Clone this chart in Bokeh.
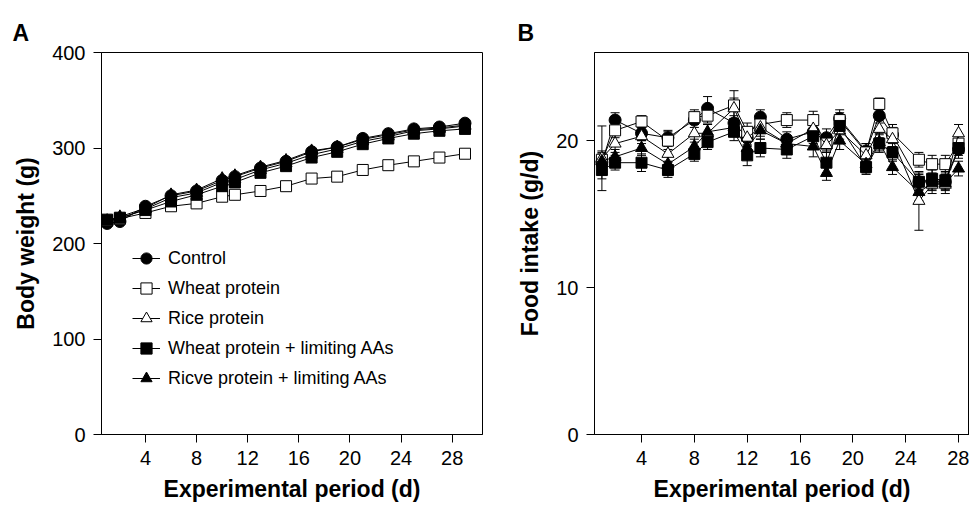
from bokeh.plotting import figure
from bokeh.layouts import row
from bokeh.models import (Range1d, FixedTicker, Legend, LegendItem, ColumnDataSource,
                          Whisker, TeeHead)
from bokeh.embed import file_html
from bokeh.resources import INLINE

FONT = "Liberation Sans"

# ---------------- data ----------------
series_names = ["Control", "Wheat protein", "Rice protein",
                "Wheat protein + limiting AAs", "Ricve protein + limiting AAs"]

# Panel A: body weight (g)
days_a = [1, 2, 4, 6, 8, 10, 11, 13, 15, 17, 19, 21, 23, 25, 27, 29]
bw_control = [221, 223, 239, 250, 255, 266, 270, 279, 286, 296, 301, 310, 315, 320, 322, 326]
bw_wheat = [224, 226, 232, 239, 242, 249, 251, 255, 260, 268, 270, 277, 282, 286, 290, 294]
bw_rice = [223, 226, 236, 248, 253, 264, 267, 277, 284, 293, 299, 307, 312, 318, 320, 323]
bw_wheat_aa = [225, 227, 235, 244, 251, 260, 264, 274, 281, 290, 296, 304, 310, 315, 318, 320]
bw_rice_aa = [224, 228, 237, 251, 256, 268, 271, 280, 287, 297, 301, 309, 314, 319, 321, 324]

# Panel B: food intake (g/d) with error
days_b = [1, 2, 4, 6, 8, 9, 11, 12, 13, 15, 17, 18, 19, 21, 22, 23, 25, 26, 27, 28]
fi_control = [18.5, 21.4, 20.5, 20.2, 21.4, 22.2, 21.2, 20.2, 21.6, 20.1, 20.6, 20.2, 21.5, 19.3, 21.7, 20.4, 17.2, 17.2, 17.2, 19.4]
fi_wheat = [18.7, 20.7, 21.3, 20.0, 21.6, 21.7, 22.4, 20.6, 21.1, 21.4, 21.4, 19.8, 21.4, 19.2, 22.5, 20.5, 18.7, 18.4, 18.4, 19.8]
fi_rice = [18.8, 19.8, 20.3, 19.1, 20.5, 20.5, 22.2, 20.2, 20.9, 19.8, 20.8, 19.7, 20.7, 19.0, 20.8, 20.1, 15.9, 17.0, 17.0, 20.5]
fi_wheat_aa = [18.0, 18.5, 18.5, 18.0, 19.1, 19.9, 20.6, 19.0, 19.5, 19.4, 20.3, 18.5, 21.0, 18.2, 19.8, 19.2, 17.2, 17.4, 17.3, 19.5]
fi_rice_aa = [18.6, 18.9, 19.5, 18.4, 19.6, 20.6, 20.9, 19.5, 20.7, 19.8, 19.6, 17.8, 20.0, 18.4, 19.9, 18.2, 16.5, 17.1, 17.1, 18.1]

err_control = [0.6, 0.5, 0.5, 0.5, 0.5, 0.8, 0.5, 0.5, 0.5, 0.5, 0.6, 0.6, 0.6, 0.5, 0.5, 0.5, 0.6, 0.5, 0.5, 0.6]
err_wheat = [0.6, 0.5, 0.4, 0.6, 0.5, 0.5, 1.0, 0.6, 0.6, 0.5, 0.6, 0.5, 0.5, 0.6, 0.4, 0.6, 0.5, 0.6, 0.6, 0.6]
err_rice = [2.2, 0.6, 0.5, 0.5, 0.6, 0.6, 0.7, 0.6, 0.6, 0.5, 0.6, 0.5, 0.6, 0.5, 0.6, 0.5, 2.0, 0.6, 0.6, 0.6]
err_wheat_aa = [0.6, 0.5, 0.6, 0.5, 0.5, 0.5, 0.6, 0.7, 0.6, 0.6, 0.5, 0.7, 0.6, 0.5, 0.6, 0.6, 0.5, 0.6, 0.6, 0.5]
err_rice_aa = [0.6, 0.5, 0.5, 0.6, 0.5, 0.5, 0.6, 0.6, 0.6, 0.5, 0.7, 0.5, 0.6, 0.6, 0.6, 0.5, 0.6, 0.5, 0.5, 0.5]

x_ticks = [4, 8, 12, 16, 20, 24, 28]
y_ticks_a = [0, 100, 200, 300, 400]
y_ticks_b = [0, 10, 20]

markers = ["circle", "square", "triangle", "square", "triangle"]
fills = ["black", "white", "white", "black", "black"]
msizes = [12, 11, 12, 11, 12]


def style(p, yticks, panel_letter, letter_offset):
    p.outline_line_color = "black"
    p.outline_line_width = 1
    p.grid.visible = False
    p.background_fill_color = "white"
    p.border_fill_color = "white"
    p.xaxis.ticker = FixedTicker(ticks=x_ticks)
    p.yaxis.ticker = FixedTicker(ticks=yticks)
    for ax in p.axis:
        ax.axis_line_color = "black"
        ax.axis_line_width = 1
        ax.major_tick_line_color = "black"
        ax.major_tick_in = 0
        ax.major_tick_out = 8
        ax.minor_tick_line_color = None
        ax.major_label_text_font = FONT
        ax.major_label_text_font_size = "20px"
        ax.major_label_text_color = "black"
        ax.axis_label_text_font = FONT
        ax.axis_label_text_font_size = "23px"
        ax.axis_label_text_font_style = "bold"
        ax.axis_label_text_color = "black"
    p.xaxis.major_label_standoff = 8
    p.xaxis.axis_label_standoff = 8
    p.yaxis.major_label_standoff = 8
    p.yaxis.axis_label_standoff = 10
    p.title.text = panel_letter
    p.title.align = "left"
    p.title.offset = letter_offset
    p.title.standoff = 14
    p.title.text_font = FONT
    p.title.text_font_size = "23px"
    p.title.text_font_style = "bold"
    p.title.text_color = "black"


# ---------------- Panel A ----------------
pa = figure(width=509, height=506, output_backend="svg", toolbar_location=None,
            x_range=Range1d(0.56, 30.37), y_range=Range1d(0, 400),
            min_border_left=101, min_border_right=27, min_border_top=52, min_border_bottom=72)
style(pa, y_ticks_a, "A", -89)
pa.xaxis.axis_label = "Experimental period (d)"
pa.yaxis.axis_label = "Body weight (g)"

bw_all = [bw_control, bw_wheat, bw_rice, bw_wheat_aa, bw_rice_aa]
items = []
for name, vals, mk, fc, ms in zip(series_names, bw_all, markers, fills, msizes):
    src = ColumnDataSource(dict(x=days_a, y=vals))
    lr = pa.line("x", "y", source=src, line_color="black", line_width=1)
    sr = pa.scatter("x", "y", source=src, marker=mk, size=ms, fill_color=fc,
                    line_color="black", line_width=1)
    items.append(LegendItem(label=name, renderers=[lr, sr]))

legend = Legend(items=items, location=(31, 41), border_line_color=None,
                background_fill_alpha=0, padding=0, margin=0, spacing=0,
                glyph_width=28, glyph_height=30, label_height=30, label_standoff=8,
                label_text_font=FONT, label_text_font_size="18px", label_text_color="black")
pa.add_layout(legend, "center")

# ---------------- Panel B ----------------
pb = figure(width=460, height=506, output_backend="svg", toolbar_location=None,
            x_range=Range1d(0.44, 28.83), y_range=Range1d(0, 26),
            min_border_left=85, min_border_right=0, min_border_top=52, min_border_bottom=72)
style(pb, y_ticks_b, "B", -77)
pb.xaxis.axis_label = "Experimental period (d)"
pb.yaxis.axis_label = "Food intake (g/d)"

fi_all = [fi_control, fi_wheat, fi_rice, fi_wheat_aa, fi_rice_aa]
err_all = [err_control, err_wheat, err_rice, err_wheat_aa, err_rice_aa]
for vals, errs, mk, fc, ms in zip(fi_all, err_all, markers, fills, msizes):
    src = ColumnDataSource(dict(x=days_b, y=vals,
                                upper=[v + e for v, e in zip(vals, errs)],
                                lower=[v - e for v, e in zip(vals, errs)]))
    w = Whisker(source=src, base="x", upper="upper", lower="lower",
                line_color="black", line_width=1,
                upper_head=TeeHead(size=9, line_color="black", line_width=1),
                lower_head=TeeHead(size=9, line_color="black", line_width=1))
    pb.add_layout(w)
    pb.line("x", "y", source=src, line_color="black", line_width=1)
    pb.scatter("x", "y", source=src, marker=mk, size=ms, fill_color=fc,
               line_color="black", line_width=1)

layout = row(pa, pb)
open("out.html", "w").write(file_html(layout, INLINE))
